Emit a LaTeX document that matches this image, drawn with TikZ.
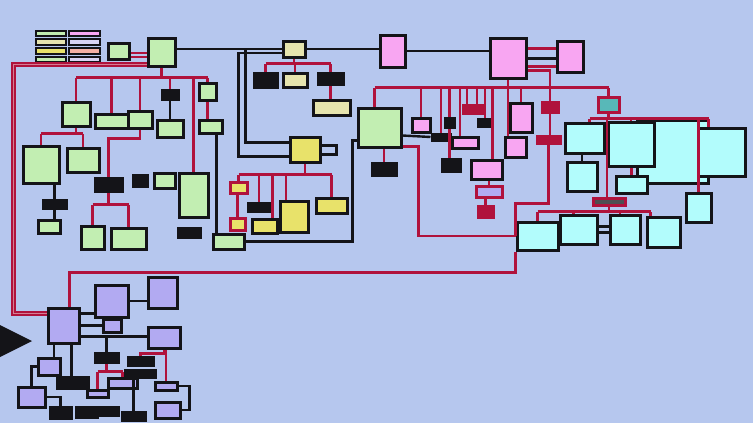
\documentclass[tikz,border=0pt]{standalone}
\usetikzlibrary{fit, calc}
\definecolor{cbg}{HTML}{B6C7EE}
\definecolor{cgreen}{HTML}{C2EEB2}
\definecolor{ckhaki}{HTML}{E6E4AE}
\definecolor{cyellow}{HTML}{E8E26A}
\definecolor{cpink}{HTML}{F8A6F2}
\definecolor{ccyan}{HTML}{B2FCFC}
\definecolor{cviolet}{HTML}{B2AAF2}
\definecolor{ccrimson}{HTML}{B0123C}
\definecolor{cdark}{HTML}{141418}
\definecolor{csalmon}{HTML}{F4B0A4}
\definecolor{cteal}{HTML}{58B8B8}
\definecolor{clilac}{HTML}{D8D4F4}
\tikzset{
  cls/.style={draw=cdark, line width=3pt, fill=#1, inner sep=0pt},
  cls/.default=cgreen,
  redcls/.style={draw=ccrimson, line width=3pt, fill=#1, inner sep=0pt},
  inh/.style={draw=ccrimson, line width=2.4pt},
  assoc/.style={draw=cdark, line width=2.4pt},
  trunk/.style={draw=ccrimson, line width=2pt, double=ccrimson!55!white, double distance=1.6pt},
}
\begin{document}
\begin{tikzpicture}[x=1pt, y=-1pt]
  \fill[cbg] (0,0) rectangle (753,423);
  \useasboundingbox (0,0) rectangle (753,423);
  % legend
  \foreach \n/\xa/\ya/\xb/\yb/\f in {lg1/36/31/66/36/cgreen, lg2/36/39/66/45/ckhaki, lg3/36/48/66/54/cyellow, lg4/36/57/66/62/cgreen,
      lg5/69/31/100/36/cpink, lg6/69/39/100/45/clilac, lg7/69/48/100/54/csalmon, lg8/69/57/100/62/clilac}
    \node[cls=\f, line width=2pt, fit={(\xa,\ya) (\xb,\yb)}] (\n) {};
  % classes
  \foreach \n/\xa/\ya/\xb/\yb/\f in {
      gA/108/43/129/59/cgreen, gB/148/38/175/66/cgreen, g1/62/102/90/126/cgreen, g2/95/114/128/128/cgreen,
      g3/128/111/152/128/cgreen, g4/157/120/183/137/cgreen, g5/199/83/216/100/cgreen, g6/199/120/222/133/cgreen,
      g7/23/146/59/183/cgreen, g8/67/148/99/172/cgreen, g9/81/226/104/249/cgreen, g10/111/228/146/249/cgreen,
      g11/154/173/175/188/cgreen, g12/179/173/208/217/cgreen, g13/38/220/60/233/cgreen, g14/213/234/244/249/cgreen,
      g15/358/108/401/147/cgreen,
      y1/283/41/305/57/ckhaki, y2/283/73/307/87/ckhaki, y3/313/100/350/115/ckhaki, y4/290/137/320/162/cyellow,
      y5/252/219/277/233/cyellow, y6/280/201/308/232/cyellow, y7/316/198/347/213/cyellow,
      p1/380/35/405/67/cpink, p2/490/38/526/78/cpink, p3/557/41/583/72/cpink, p4/412/118/430/132/cpink,
      p5/452/137/478/148/cpink, p6/471/160/502/179/cpink, p7/510/103/532/132/cpink, p8/505/137/526/157/cpink,
      c3/637/120/708/183/ccyan, c2/608/122/654/166/ccyan, c4/698/128/745/176/ccyan, c1/565/123/604/153/ccyan,
      c5/567/162/597/191/ccyan, c6/616/176/647/193/ccyan, c7/686/193/711/222/ccyan, c8/517/222/558/250/ccyan,
      c9/560/215/597/244/ccyan, c10/610/215/640/244/ccyan, c11/647/217/680/247/ccyan,
      v1/48/308/79/343/cviolet, v2/95/285/128/317/cviolet, v3/148/277/177/308/cviolet, v4/103/319/121/332/cviolet,
      v5/148/327/180/348/cviolet, v6/38/358/60/375/cviolet, v7/18/387/45/407/cviolet, v8/155/382/177/390/cviolet,
      v9/155/402/180/418/cviolet, v10/87/390/108/397/cviolet, v11/108/378/137/388/cviolet}
    \node[cls=\f, fit={(\xa,\ya) (\xb,\yb)}] (\n) {};
  % dark classes
  \foreach \n/\xa/\ya/\xb/\yb in {k1/162/90/178/99, k2/95/178/122/191, k3/133/175/147/186, k4/178/228/200/237,
      k5/43/200/66/208, k6/372/163/396/175, k7/254/73/277/87, k8/318/73/343/84, k9/248/203/270/211,
      k10/445/118/454/127, k11/432/134/450/140, k12/442/159/460/171, k13/478/119/492/126, k14/95/353/118/362,
      k15/128/357/153/365, k16/50/407/71/418, k17/76/407/97/417, k18/98/407/118/415, k19/122/412/145/420,
      k20/125/370/155/377, k21/57/377/88/388}
    \node[cls=cdark, fit={(\xa,\ya) (\xb,\yb)}] (\n) {};
  % red framed classes
  \foreach \n/\xa/\ya/\xb/\yb/\f in {r1/230/182/247/193/cyellow, r2/230/218/245/230/cyellow, r3/476/186/502/197/cviolet,
      rc1/598/97/619/112/cteal, rl/593/198/625/205/cdark!75, rp1/463/105/483/113/ccrimson, rp2/542/102/558/112/ccrimson,
      rp3/537/136/560/143/ccrimson, r4/478/206/493/217/ccrimson}
    \node[redcls=\f, fit={(\xa,\ya) (\xb,\yb)}] (\n) {};
  \fill[cdark] (0,325) -- (32,341) -- (0,357) -- cycle;

  % associations
  \draw[assoc] (gB.east |- y1.west) -- (y1.west);
  \draw[assoc] (y1.east) -- (y1.east -| p1.west);
  \draw[assoc] (p1.east) -- (p1.east -| p2.west);
  \coordinate (p3a) at ([yshift=-9pt]p3.north west);
  \coordinate (p3b) at ([yshift=-19pt]p3.north west);
  \coordinate (p3c) at ([yshift=-27pt]p3.north west);
  \draw[inh] (p3a) -- (p3a -| p2.east);
  \draw[assoc] (p3b) -- (p3b -| p2.east);
  \draw[inh] (p3c) -- (p3c -| p2.east);
  \coordinate (yb1) at ([yshift=7pt]y4.west);
  \coordinate (yb2) at ([yshift=-7pt]y4.west);
  \draw[assoc] (yb1) -| ([xshift=-36pt]y1.west) -- (y1.west);
  \draw[assoc] (yb2) -| ([xshift=-43pt,yshift=-4pt]y1.west) -- ([yshift=-4pt]y1.west);
  \draw[assoc] ([yshift=4pt]y4.east) -- ++(15,0) -- ++(0,9) -- ([yshift=-5pt]y4.east);
  \draw[assoc] (g14.east) -| ([xshift=-4pt,yshift=8pt]g15.south west) -- ([yshift=8pt]g15.south west);
  \coordinate (g14t) at ([xshift=5pt]g14.north west);
  \draw[assoc] (g14t) -- (g14t |- g6.south);
  \draw[assoc] (k1) -- (g4);
  \draw[assoc] (k5.north) -- (k5.north |- g7.south);
  \draw[assoc] (k5.south) -- (k5.south |- g13.north);
  \draw[assoc] ([yshift=-8pt]g15.east) -- (k11.west);
  \draw[assoc] (c5.north) -- (c5.north |- c1.south);
  \coordinate (c9a) at ([yshift=3pt]c9.east);
  \coordinate (c9b) at ([yshift=-3pt]c9.east);
  \draw[assoc] (c9a) -- (c9a -| c10.west);
  \draw[assoc] (c9b) -- (c9b -| c10.west);
  \coordinate (v1a) at ([yshift=12pt]v1.east);
  \coordinate (v1b) at ([yshift=-11pt]v1.east);
  \coordinate (v1c) at ([xshift=8pt]v1.south);
  \coordinate (v6t) at ([xshift=5pt]v6.north);
  \draw[assoc] (v1a) -- (v1a -| v2.west);
  \draw[assoc] (v2.east) -- (v2.east -| v3.west);
  \draw[assoc] (v1.east |- v4.west) -- (v4.west);
  \draw[assoc] (v1b) -- (v1b -| v5.west);
  \draw[assoc] (k14.north) -- (k14.north |- v1b);
  \draw[assoc] (v6t) -- (v6t |- v1.south);
  \draw[assoc] (v1c) -- (v1c |- k21.north);
  \draw[assoc] (v6.west) -| (v7.north);
  \draw[assoc] (v7.east) -| (k16.north);
  \draw[assoc] (k19.north) -- (k19.north |- k20.south);
  \draw[assoc] (v8.east) -- ++(11,0) |- (v9.east);

  % generalisations
  \draw[trunk] ([yshift=3pt]gB.south west) -| ([xshift=-33pt,yshift=12pt]v1.west) -- ([yshift=12pt]v1.west);
  \coordinate (gA1) at ([yshift=-2pt]gA.east);
  \coordinate (gA2) at ([yshift=-6pt]gA.east);
  \draw[inh] (gA1) -- (gA1 -| gB.west);
  \draw[inh] (gA2) -- (gA2 -| gB.west);
  \coordinate (gbus) at ([yshift=-10pt]gB.south);
  \draw[inh] (gB.south) -- (gbus);
  \draw[inh] (gbus -| g1.north) -- (gbus -| g5.north);
  \foreach \c in {g1,g2,g3,k1,g12,g5} \draw[inh] (\c.north) -- (\c.north |- gbus);
  \draw[inh] (g5.south) -- (g5.south |- g6.north);
  \coordinate (g1bus) at ([yshift=-6pt]g1.south);
  \draw[inh] (g1.south) -- (g1bus);
  \draw[inh] (g1bus -| g7.north) -- (g1bus -| g8.north);
  \foreach \c in {g7,g8} \draw[inh] (\c.north) -- (\c.north |- g1bus);
  \draw[inh] (g3.south) -- ++(0,9) -| (k2.north);
  \coordinate (k2bus) at ([yshift=-12pt]k2.south);
  \draw[inh] (k2.south) -- (k2bus);
  \draw[inh] (k2bus -| g9.north) -- (k2bus -| g10.north);
  \foreach \c in {g9,g10} \draw[inh] (\c.north) -- (\c.north |- k2bus);
  \coordinate (y1bus) at ([yshift=-5pt]y1.south);
  \draw[inh] (y1.south) -- (y1bus);
  \draw[inh] (y1bus -| k7.north) -- (y1bus -| k8.north);
  \foreach \c in {k7,y2,k8} \draw[inh] (\c.north) -- (\c.north |- y1bus);
  \draw[inh] (k8.south) -- (k8.south |- y3.north);
  \coordinate (y4bus) at ([yshift=-11pt]y4.south);
  \coordinate (y5t) at ([xshift=8pt]y5.north);
  \coordinate (y6t) at ([xshift=-8pt]y6.north);
  \draw[inh] (y4.south) -- (y4bus);
  \draw[inh] (y4bus -| r1.north) -- (y4bus -| y7.north);
  \foreach \c in {r1.north,k9.north,y5t,y6t,y7.north} \draw[inh] (\c) -- (\c |- y4bus);
  \draw[inh] (r2.north) -- (r2.north |- r1.south);
  \coordinate (pbus) at ([yshift=-8pt]p2.south);
  \coordinate (g15t) at ([xshift=-5pt]g15.north);
  \coordinate (p5t) at ([xshift=-5pt]p5.north);
  \coordinate (rp1a) at ([xshift=-6pt]rp1.north);
  \coordinate (rp1b) at ([xshift=4pt]rp1.north);
  \coordinate (p6t) at ([xshift=6pt]p6.north);
  \coordinate (p8t) at ([xshift=-7.5pt]p8.north);
  \draw[inh] (p2.south) -- (pbus);
  \draw[inh] (g15t |- pbus) -- (pbus -| rc1.north);
  \foreach \c in {g15t,p4.north,k11.north,k10.north,p5t,rp1a,rp1b,k13.north,p6t,p7.north,p8t,rc1.north}
    \draw[inh] (\c) -- (\c |- pbus);
  \draw[inh] (k10.south) -- (k10.south |- k12.north);
  \draw[inh] (r3.north) -- (r3.north |- p6.south);
  \draw[inh] (r4.north) -- (r4.north |- r3.south);
  \draw[inh] (k6.north) -- (k6.north |- g15.south);
  \coordinate (p2r) at ([yshift=9pt]p2.south east);
  \draw[inh] (p2r) -| (rp2.north);
  \draw[inh] (rp2.south) -- (rp2.south |- rp3.north);
  \draw[inh] (rp3.south) -- ++(0,59) -| (c8.west);
  \draw[inh] ([yshift=2pt]g15.south east) -- ++(16,0) |- (c8.west);
  \draw[inh, line width=2.8pt] (c8.south west) -- ++(0,21) -| ([xshift=6pt]v1.north);
  \coordinate (cbus) at ([yshift=-5pt]rc1.south);
  \coordinate (c1t) at ([xshift=5pt]c1.north);
  \coordinate (c4t) at ([xshift=-13pt]c4.north);
  \coordinate (rlt) at ([xshift=-2pt]rl.north);
  \draw[inh] (rc1.south) -- (cbus);
  \draw[inh] (c1t |- cbus) -- (cbus -| c4t);
  \foreach \c in {c1t,c2.north,c3.north,c4t,c7.north,rlt} \draw[inh] (\c) -- (\c |- cbus);
  \draw[inh] (c6.north) -- (c6.north |- c2.south);
  \coordinate (rbus) at ([yshift=-5pt]rl.south);
  \coordinate (c9t) at ([xshift=-5pt]c9.north);
  \coordinate (c10t) at ([xshift=-5pt]c10.north);
  \coordinate (c11t) at ([xshift=-13pt]c11.north);
  \draw[inh] (rl.south) -- (rbus);
  \draw[inh] (rbus -| c8.north) -- (rbus -| c11t);
  \foreach \c in {c8.north,c9t,c10t,c11t} \draw[inh] (\c) -- (\c |- rbus);
  \draw[inh] (v5.south) -- ++(0,4) -| (k15.north);
  \coordinate (v5b) at ([xshift=2pt]v5.south);
  \draw[inh] (v5b) -- (v5b |- v8.north);
  \coordinate (kbus) at ([yshift=-8pt]k14.south);
  \draw[inh] (k14.south) -- (kbus);
  \draw[inh] (kbus -| v10.north) -- (kbus -| v11.north);
  \foreach \c in {v10,v11} \draw[inh] (\c.north) -- (\c.north |- kbus);
\end{tikzpicture}
\end{document}
